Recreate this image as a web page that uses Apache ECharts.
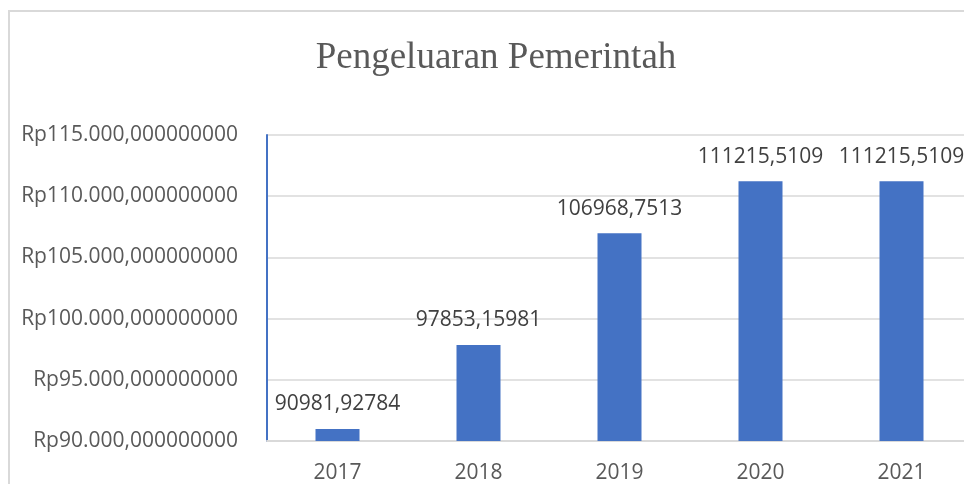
<!DOCTYPE html>
<html>
<head>
<meta charset="utf-8">
<title>Pengeluaran Pemerintah</title>
<script src="https://cdn.jsdelivr.net/npm/echarts@6/dist/echarts.min.js"></script>
<style>
  html, body { margin: 0; padding: 0; background: #fff; }
  #chart { width: 964px; height: 484px; }
</style>
</head>
<body>
<div id="chart"></div>
<script>
// data
var years = ['2017', '2018', '2019', '2020', '2021'];
var spending = [90981.92784, 97853.15981, 106968.7513, 111215.5109, 111215.5109];
var yMin = 90000;
var yMax = 115000;
var yStep = 5000;

function rupiah(v) {
  var thousands = Math.floor(v / 1000);
  var rest = String(v % 1000);
  while (rest.length < 3) rest = '0' + rest;
  return 'Rp' + thousands + '.' + rest + ',000000000';
}

var chart = echarts.init(document.getElementById('chart'));
var option = {
  backgroundColor: '#ffffff',
  animation: false,
  title: {
    text: 'Pengeluaran Pemerintah',
    left: 491,
    textAlign: 'center',
    top: 35,
    textStyle: {
      fontFamily: 'Liberation Serif',
      fontWeight: 'normal',
      fontSize: 37,
      color: '#595959'
    }
  },
  graphic: [
    {
      type: 'rect',
      shape: { x: 9, y: 11, width: 1000, height: 500 },
      style: { fill: 'none', stroke: '#d9d9d9', lineWidth: 2 },
      silent: true
    }
  ],
  grid: {
    left: 267,
    top: 135,
    width: 705,
    height: 306,
    outerBoundsMode: 'none'
  },
  xAxis: {
    type: 'category',
    data: years,
    axisLine: { lineStyle: { color: '#d9d9d9', width: 2 } },
    axisTick: { show: false },
    axisLabel: {
      color: '#595959',
      fontFamily: 'Open Sans',
      fontSize: 21,
      margin: 22
    }
  },
  yAxis: {
    type: 'value',
    min: yMin,
    max: yMax,
    interval: yStep,
    axisLine: { show: true, lineStyle: { color: '#4472C4', width: 2 } },
    axisTick: { show: false },
    splitLine: { lineStyle: { color: '#d9d9d9', width: 1.5 } },
    axisLabel: {
      color: '#595959',
      fontFamily: 'Open Sans',
      fontSize: 21,
      margin: 29,
      formatter: rupiah
    }
  },
  series: [
    {
      name: 'Pengeluaran Pemerintah',
      type: 'bar',
      data: spending,
      barWidth: 44,
      itemStyle: { color: '#4472C4' },
      label: {
        show: true,
        position: 'top',
        distance: 14,
        color: '#404040',
        fontFamily: 'Open Sans',
        fontSize: 21,
        formatter: function (p) {
          return String(p.value).replace('.', ',');
        }
      }
    }
  ]
};
chart.setOption(option);
</script>
</body>
</html>
